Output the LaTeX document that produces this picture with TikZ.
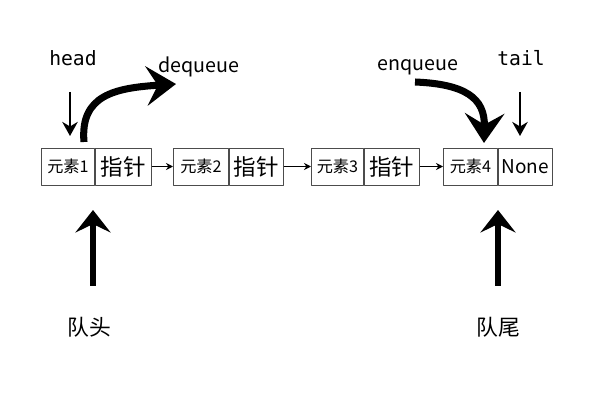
\documentclass[tikz,border=0pt]{standalone}
\usepackage{fontspec}
\setmainfont{Noto Sans CJK SC}
\newfontfamily\monofont{DejaVu Sans Mono}
\usetikzlibrary{arrows.meta}

\begin{document}
\begin{tikzpicture}[x=0.025cm,y=-0.025cm,line join=round]
\tikzstyle{cell} = [draw=black!70,line width=0.6pt,minimum height=0.925cm,inner sep=0pt,anchor=west]
\tikzstyle{small cell} = [cell,font=\fontsize{11.5pt}{12pt}\selectfont]
\tikzstyle{big cell} = [cell,font=\fontsize{16pt}{17pt}\selectfont]
\tikzstyle{link} = [draw,line width=1pt,-{Stealth[length=5pt,width=5pt]}]
\tikzstyle{pointer} = [draw,line width=1.6pt,-{Stealth[length=10pt,width=11pt]}]
\tikzstyle{bend arrow} = [draw,line width=5pt,-{Stealth[length=21pt,width=28pt,inset=8pt]}]
\tikzstyle{up arrow} = [draw,line width=3.8pt,-{Stealth[length=16pt,width=25pt,inset=6pt]}]
\tikzstyle{label} = [font=\fontsize{14pt}{15pt}\selectfont,inner sep=0pt]

\useasboundingbox (0,0) rectangle (600,400);

% list of nodes
\node[small cell,minimum width=1.325cm] (e1) at (41,166.5) {元素1};
\node[big cell,minimum width=1.4cm]     (p1) at (e1.east) {指针};
\node[small cell,minimum width=1.375cm] (e2) at (173,166.5) {元素2};
\node[big cell,minimum width=1.35cm]    (p2) at (e2.east) {指针};
\node[small cell,minimum width=1.3cm]   (e3) at (311,166.5) {元素3};
\node[big cell,minimum width=1.375cm]   (p3) at (e3.east) {指针};
\node[small cell,minimum width=1.35cm]  (e4) at (443,166.5) {元素4};
\node[cell,minimum width=1.35cm,font=\fontsize{13.5pt}{14pt}\selectfont] (p4) at (e4.east) {None};

\draw[link] (p1.east) -- (e2.west);
\draw[link] (p2.east) -- (e3.west);
\draw[link] (p3.east) -- (e4.west);

% head and tail
\node[label,font=\monofont\fontsize{14pt}{15pt}\selectfont] (head) at (73,58) {head};
\node[label,font=\monofont\fontsize{14pt}{15pt}\selectfont] (tail) at (521,58) {tail};
\coordinate (h1) at (70,92);
\coordinate (h2) at (70,136);
\coordinate (t1) at (520,92);
\coordinate (t2) at (520,136);
\draw[pointer] (h1) -- (h2);
\draw[pointer] (t1) -- (t2);

% dequeue / enqueue
\node[label] (deq) at (199,67) {dequeue};
\node[label] (enq) at (418,67) {enqueue};
\coordinate (d1) at (84,142);
\coordinate (d2) at (176,84);
\draw[bend arrow] (d1) .. controls (80,95) and (115,88) .. (d2);
\coordinate (n1) at (415,82);
\coordinate (n2) at (484,143);
\draw[bend arrow] (n1) .. controls (465,84) and (485,98) .. (n2);

% front and rear
\node[label,font=\fontsize{15.5pt}{16pt}\selectfont] (front) at (89,327) {队头};
\node[label,font=\fontsize{15.5pt}{16pt}\selectfont] (rear) at (498,327) {队尾};
\coordinate (f1) at (93,286);
\coordinate (f2) at (93,210);
\coordinate (r1) at (498,286);
\coordinate (r2) at (498,210);
\draw[up arrow] (f1) -- (f2);
\draw[up arrow] (r1) -- (r2);

\end{tikzpicture}
\end{document}
